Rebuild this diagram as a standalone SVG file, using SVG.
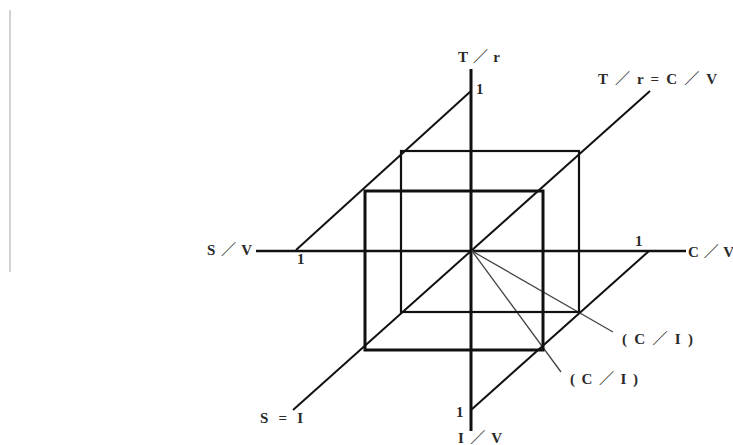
<svg xmlns="http://www.w3.org/2000/svg" width="733" height="445" viewBox="0 0 733 445">
<style>
.ax{stroke:#111;fill:none;stroke-linecap:butt}
.t{font-family:"Liberation Serif","Noto Sans CJK JP",serif;font-size:15px;font-weight:bold;fill:#2a2a2a}
.ray{stroke:#444;stroke-width:1.3;fill:none}
</style>
<rect width="733" height="445" fill="#fff"/>
<line x1="10" y1="10" x2="10" y2="272" stroke="#d2d2d2" stroke-width="2"/>
<g id="connectors">
<line class="ax" x1="471" y1="69" x2="471" y2="431" stroke-width="3"/>
<line class="ax" x1="256" y1="251" x2="686" y2="251" stroke-width="2.6"/>
<line class="ax" x1="293" y1="410" x2="650" y2="91" stroke-width="2"/>
<line class="ax" x1="296" y1="250" x2="471" y2="91" stroke-width="2"/>
<line class="ax" x1="649" y1="251" x2="471" y2="410" stroke-width="2"/>
<line class="ray" x1="472" y1="251" x2="613" y2="332"/>
<line class="ray" x1="472" y1="251" x2="561" y2="372"/>
</g>
<g id="back-square"><rect class="ax" x="401" y="151" width="178" height="161" stroke-width="2.2"/></g>
<g id="front-square"><rect class="ax" x="365" y="191" width="178" height="159" stroke-width="3"/></g>
<g id="label-Tr"><text class="t" x="458" y="62" textLength="42" lengthAdjust="spacing">T ／ r</text></g>
<g id="label-TrCV"><text class="t" x="598" y="84" textLength="119" lengthAdjust="spacing">T ／ r = C ／ V</text></g>
<g id="label-SV"><text class="t" x="207" y="255" textLength="45" lengthAdjust="spacing">S ／ V</text></g>
<g id="label-CV"><text class="t" x="688" y="257" textLength="46" lengthAdjust="spacing">C ／ V</text></g>
<g id="label-IV"><text class="t" x="458" y="443" textLength="44" lengthAdjust="spacing">I ／ V</text></g>
<g id="label-SI"><text class="t" x="260" y="423" textLength="43" lengthAdjust="spacing">S = I</text></g>
<g id="label-CI1"><text class="t" x="622" y="344" textLength="71" lengthAdjust="spacing">( C ／ I )</text></g>
<g id="label-CI2"><text class="t" x="570" y="384" textLength="68" lengthAdjust="spacing">( C ／ I )</text></g>
<g id="ones">
<text class="t" x="476" y="94">1</text>
<text class="t" x="635" y="246">1</text>
<text class="t" x="297" y="264">1</text>
<text class="t" x="456" y="417">1</text>
</g>
</svg>
